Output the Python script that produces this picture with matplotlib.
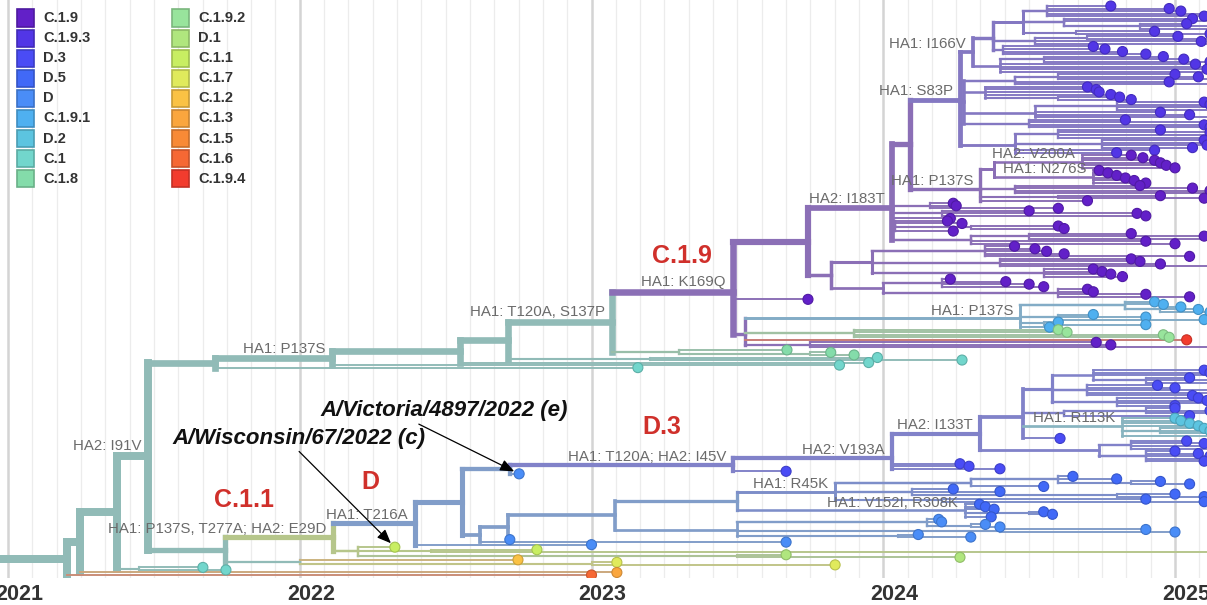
"""Genotype-coloured time tree of recent H1N1pdm HA sequences."""
import matplotlib

matplotlib.use("Agg")
import matplotlib.pyplot as plt
import numpy as np
from matplotlib.collections import LineCollection
from matplotlib.colors import to_rgb
from matplotlib.patches import Rectangle
from matplotlib.transforms import ScaledTranslation

FONT = "Liberation Sans"
W, H, DPI = 1207, 605, 100
PT = 72 / DPI  # points per pixel

GENOTYPES = ["C.1.9", "C.1.9.3", "D.3", "D.5", "D", "C.1.9.1", "D.2", "C.1", "C.1.8",
             "C.1.9.2", "D.1", "C.1.1", "C.1.7", "C.1.2", "C.1.3", "C.1.5", "C.1.6", "C.1.9.4"]
GENOTYPE_COLORS = ["#6220c8", "#5236e6", "#4a4cf5", "#4169f7", "#4a8df7", "#4fb0f0",
                   "#5cc4e0", "#72d6cc", "#84dcaa", "#98e49c", "#b0e67e", "#c8ee62",
                   "#e0ea5c", "#fac244", "#faa63e", "#f88a36", "#f66834", "#f23c2e"]
YEARS = [2021, 2022, 2023, 2024, 2025]

# Tree pieces: a list is [node date, child, child, ...], a float is a tip date,
# a tuple is a tip with its own genotype (and strain name), a string names a clade.
ROOT = [2021.202, "A", (2023.000, "C.1.6")]
A_NODE = [2021.247, "B", (2023.087, "C.1.3")]
B_NODE = [2021.374, "C", [2021.450, 2021.668, 2021.747]]
C_NODE = [2021.480, "P1", "N225"]

P1 = [2021.710, "P137S", 2023.159]
P137S = [2022.111, "P3", 2023.850]
P3 = [2022.549, "P4", 2023.950]
P4 = [2022.714, "T120A", [2023.200, 2023.980, 2024.270]]
T120A = [2023.070, "K169Q", "C18"]
C18 = [2023.300, 2023.670, [2023.750, 2023.820, 2023.900]]
K169Q = [2023.485, "N808", 2023.742, "K_LOW"]
N808 = [2023.742, "I183T", "N830"]

I183T = [2024.030, "N910",
         [2024.160, 2024.240, 2024.250, 2024.600],
         [2024.200, 2024.500, 2024.870, 2024.900],
         2024.230,
         [2024.040, 2024.220, 2024.270, [2024.300, 2024.600, 2024.620], 2024.240],
         [2024.300, [2024.500, 2024.850, 2025.100, 2025.130], 2024.900, 2025.000]]
N910 = [2024.092, "S83P", "P137S_B"]

I166V = [2024.308,
         [2024.376,
          [2024.479,
           [2024.560, 2024.780, 2024.980, 2025.020, 2025.140, 2025.100],
           [2024.620, 2025.060, 2025.130, [2024.880, 2025.040, 2025.140, 2025.150]],
           [2024.660, 2024.930, 2025.120]],
          [2024.520, [2024.700, 2025.010, 2025.140], 2025.090, 2025.150],
          [2024.410, 2024.720, 2024.760, 2024.820, 2024.900]],
         [2024.400, [2024.550, 2024.960, 2025.030, 2025.120], 2025.070, 2025.150, 2025.110,
          2025.130]]
S83P_MID = [2024.278,
            [2024.450, [2024.600, 2025.000, 2025.080, 2025.130], 2024.980, 2025.150],
            [2024.350, 2024.700, 2024.730, 2024.740, 2024.780, [2024.600, 2024.810, 2024.850]],
            [2024.520, [2024.800, 2025.100, 2025.120, 2025.150, 2025.140], 2024.950, 2025.050,
             2025.130],
            [2024.500, 2024.830, 2025.140, 2025.100, 2025.120]]
S83P_LOW = [2024.450, [2024.600, 2024.950, 2025.120, 2025.150, 2025.130],
            [2024.750, 2025.100, 2025.140, 2025.110, 2025.060], 2024.930, 2024.800]
S83P = [2024.263, "I166V", S83P_MID, S83P_LOW]

V200A = [2024.680, 2024.850, 2024.890, 2024.930, 2024.950, 2024.970, 2025.000]
N276S = [2024.720, 2024.740, 2024.770, 2024.800, 2024.830, 2024.860, 2024.900]
P137S_B = [2024.332, [2024.380, "V200A", "N276S"],
           [2024.450, 2024.880, 2025.060, 2025.120, 2025.150],
           [2024.600, 2024.950, 2025.100], 2024.700]

N830 = [2023.820,
        [2023.960, [2024.350, 2024.450, 2024.520, 2024.560, 2024.620, 2025.050],
         [2024.400, 2024.850, 2024.880, 2024.950, 2025.150],
         [2024.550, 2024.720, 2024.750, 2024.780, 2024.820]],
        [2024.000, [2024.200, 2024.230, 2024.420, 2024.500, 2024.550],
         [2024.600, 2024.700, 2024.720, 2024.900, 2025.050]]]

K_LOW = [2023.526, "P137S_C", "C192", (2025.040, "C.1.9.4"),
         [2023.750, 2024.730, 2024.780, 2025.150]]
P137S_C = [2024.469, [2024.830, 2024.930, 2024.960, [2024.950, 2025.020, 2025.080, 2025.120]],
           [2024.600, 2024.720, 2024.900, 2025.100],
           [2024.550, 2024.600, 2024.900], 2024.570]
C192 = [2023.900, 2024.600, 2024.630, 2024.960, 2024.980]

N225 = [2021.744, "T277A", [2022.000, (2022.748, "C.1.2"), "C17"]]
C17 = [2023.000, 2023.087, 2023.835]
T277A = [2022.114, "T216A",
         [2022.200, (2022.326, "C.1.1", "A/Wisconsin/67/2022"),
          [2022.450, 2022.813, 2025.150], "D1"]]
D1 = [2023.500, 2023.667, 2024.263]

T216A = [2022.395, "N462", 2023.000]
N462 = [2022.556, "D3_STEM", "N480"]
D3_STEM = [2022.720, "I45V", (2022.752, "D", "A/Victoria/4897/2022")]
I45V = [2023.485, "V193A", 2023.667]
V193A = [2024.030, "I133T", 2024.263, 2024.294, 2024.400]
I133T = [2024.332,
         [2024.480,
          [2024.580,
           [2024.720, 2025.100, 2025.120, 2025.150, [2024.900, 2025.050, 2025.130, 2025.150]],
           [2024.700, 2024.940, 2025.000, 2025.150, 2025.130, 2025.060],
           [2024.800, 2025.080, 2025.110, 2025.140, 2025.000]],
          [2024.620, [2024.900, 2025.000, 2025.120, 2025.150], 2025.050],
          "R113K", 2024.606],
         [2024.740, [2024.850, 2025.040, 2025.100, 2025.140, 2025.150],
          [2024.900, 2025.000, 2025.080, 2025.120, 2025.150, 2025.100]]]
R113K = [2024.820, 2025.000, 2025.020, 2025.050, 2025.080,
         [2024.950, 2025.100, 2025.120, 2025.150], 2025.140]

N480 = [2022.618, [2022.714, [2023.081, [2023.499, "R45K", "V152I"], "D_LOW"], 2022.720], 2023.667]
R45K = [2023.835,
        [2024.300, [2024.600, 2024.650, 2024.800, [2024.850, 2024.950, 2025.050]], 2024.550],
        [2024.100, 2024.240, 2024.400, [2024.800, 2025.000, 2025.100]],
        [2024.200, 2024.900, 2025.100]]
V152I = [2024.280, 2024.330, 2024.350, 2024.380, [2024.500, 2024.550, 2024.580], 2024.370]
D_LOW = [2023.500, [2024.150, 2024.190, 2024.200, [2024.300, 2024.350, 2024.400]],
         [2024.400, 2024.900, 2025.000], [2024.050, 2024.120, 2024.300]]

CLADES = {
    "root": ROOT, "A": A_NODE, "B": B_NODE, "C": C_NODE, "P1": P1, "P137S": P137S,
    "P3": P3, "P4": P4, "T120A": T120A, "C18": C18, "K169Q": K169Q, "N808": N808,
    "I183T": I183T, "N910": N910, "S83P": S83P, "I166V": I166V, "P137S_B": P137S_B,
    "V200A": V200A, "N276S": N276S, "N830": N830, "K_LOW": K_LOW, "P137S_C": P137S_C,
    "C192": C192, "N225": N225, "C17": C17, "T277A": T277A, "D1": D1, "T216A": T216A,
    "N462": N462, "D3_STEM": D3_STEM, "I45V": I45V, "V193A": V193A, "I133T": I133T,
    "R113K": R113K, "N480": N480, "R45K": R45K, "V152I": V152I, "D_LOW": D_LOW,
}
CLADE_GENOTYPE = {
    "root": "C.1", "K169Q": "C.1.9", "S83P": "C.1.9.3", "C18": "C.1.8", "P137S_C": "C.1.9.1",
    "C192": "C.1.9.2", "T277A": "C.1.1", "D1": "D.1", "C17": "C.1.7", "T216A": "D",
    "I45V": "D.3", "R113K": "D.2", "R45K": "D.5", "V152I": "D.5",
}
BRANCH_LABELS = {
    "C": "HA2: I91V", "P137S": "HA1: P137S", "T120A": "HA1: T120A, S137P",
    "K169Q": "HA1: K169Q", "I183T": "HA2: I183T", "S83P": "HA1: S83P",
    "I166V": "HA1: I166V", "P137S_B": "HA1: P137S", "V200A": "HA2: V200A",
    "N276S": "HA1: N276S", "P137S_C": "HA1: P137S",
    "T277A": "HA1: P137S, T277A; HA2: E29D", "T216A": "HA1: T216A",
    "I45V": "HA1: T120A; HA2: I45V", "V193A": "HA2: V193A", "I133T": "HA2: I133T",
    "R113K": "HA1: R113K", "R45K": "HA1: R45K", "V152I": "HA1: V152I, R308K",
}
CLADE_TITLES = {"K169Q": "C.1.9", "T277A": "C.1.1", "T216A": "D", "I45V": "D.3"}
STRAIN_TAGS = {"A/Wisconsin/67/2022": "c", "A/Victoria/4897/2022": "e"}

# placement of the red clade titles and strain call-outs, in pixels from their node
TITLE_OFFSETS = {"K169Q": (-51, 29), "T277A": (-89, 30), "T216A": (-45, 34), "I45V": (-71, 31)}
STRAIN_OFFSETS = {"A/Wisconsin/67/2022": (-96, 109, 0.49),
                  "A/Victoria/4897/2022": (-75, 63, 0.375)}

COLOR_OF = dict(zip(GENOTYPES, GENOTYPE_COLORS))


def build(item, genotype, name=None):
    if isinstance(item, str):
        return build(CLADES[item], CLADE_GENOTYPE.get(item, genotype), item)
    if isinstance(item, list):
        kids = [build(k, genotype) for k in item[1:]]
        return {"date": item[0], "gt": genotype, "kids": kids, "name": name}
    if isinstance(item, tuple):
        return {"date": item[0], "gt": item[1], "kids": [], "name": None,
                "strain": item[2] if len(item) > 2 else None}
    return {"date": item, "gt": genotype, "kids": [], "name": name}


def layout(node, tips, nodes):
    nodes.append(node)
    if node["kids"]:
        for k in node["kids"]:
            layout(k, tips, nodes)
        node["y"] = float(np.mean([k["y"] for k in node["kids"]]))
        node["n"] = sum(k["n"] for k in node["kids"])
    else:
        node["y"] = float(len(tips))
        node["n"] = 1
        tips.append(node)


def branch_color(gt):
    c = np.array(to_rgb(COLOR_OF[gt]))
    return tuple(0.42 * c + 0.58 * 0.66)


tree = build("root", "C.1")
tips, nodes = [], []
layout(tree, tips, nodes)
n_total = tree["n"]


def width_px(n):
    return 1.5 + 6.5 * np.sqrt(n / n_total)


segs, widths, colors = [], [], []


def collect(node, parent_date):
    w = width_px(node["n"]) * PT
    c = branch_color(node["gt"])
    segs.append([(parent_date, node["y"]), (node["date"], node["y"])])
    widths.append(w)
    colors.append(c)
    if node["kids"]:
        ys = [k["y"] for k in node["kids"]]
        segs.append([(node["date"], min(ys)), (node["date"], max(ys))])
        widths.append(w)
        colors.append(c)
        for k in node["kids"]:
            collect(k, node["date"])


collect(tree, 2020.90)
order = np.argsort(widths)[::-1]

fig = plt.figure(figsize=(W / DPI, H / DPI), dpi=DPI)
ax = fig.add_axes([0, 27 / H, 1, 578 / H])

ax.add_collection(LineCollection([segs[i] for i in order], linewidths=[widths[i] for i in order],
                                 colors=[colors[i] for i in order], capstyle="projecting",
                                 zorder=2))

tip_x = [t["date"] for t in tips]
tip_y = [t["y"] for t in tips]
tip_c = [COLOR_OF[t["gt"]] for t in tips]
tip_e = [tuple(0.82 * np.array(to_rgb(c))) for c in tip_c]
ax.scatter(tip_x, tip_y, s=52, c=tip_c, edgecolors=tip_e, linewidths=0.8, zorder=4)

ax.set_xticks(YEARS)
ax.set_xticklabels([str(y) for y in YEARS], family=FONT, fontsize=15.5,
                   fontweight="bold", color="#333333")
ax.set_xticks([y + m / 12 for y in range(2020, 2026) for m in range(1, 12)], minor=True)
ax.grid(True, which="major", axis="x", color="#d4d4d4", lw=1.8, zorder=0)
ax.grid(True, which="minor", axis="x", color="#ececec", lw=0.9, zorder=0)
ax.set_axisbelow(True)
ax.tick_params(axis="x", which="both", length=0, pad=4)
ax.set_yticks([])
for spine in ax.spines.values():
    spine.set_visible(False)
shift = ScaledTranslation(11 / DPI, 0, fig.dpi_scale_trans)
for lbl in ax.get_xticklabels():
    lbl.set_transform(lbl.get_transform() + shift)

# rank 0 sits 6 px below the top, the last tip 575 px down
px_per_tip = 569 / (n_total - 1)
ax.set_ylim(572 / px_per_tip, -6 / px_per_tip)
ax.set_xlim(2021 - 8 / 291.75, 2021 + 1199 / 291.75)

label_font = dict(family=FONT, fontsize=10.8, color="#6b6b6b")
for node in nodes:
    name = node.get("name")
    if name in BRANCH_LABELS:
        lift = width_px(node["n"]) / 2 + 2
        ax.annotate(BRANCH_LABELS[name], xy=(node["date"], node["y"]),
                    xytext=(-7 * PT, lift * PT), textcoords="offset points",
                    ha="right", va="baseline", zorder=5, **label_font)
    if name in CLADE_TITLES:
        dx, dy = TITLE_OFFSETS[name]
        ax.annotate(CLADE_TITLES[name], xy=(node["date"], node["y"]),
                    xytext=(dx * PT, dy * PT), textcoords="offset points",
                    ha="center", va="baseline", family=FONT, fontsize=18,
                    fontweight="bold", color="#d0302b", zorder=5)

for tip in tips:
    strain = tip.get("strain")
    if strain:
        dx, dy, rel = STRAIN_OFFSETS[strain]
        ax.annotate(f"{strain} ({STRAIN_TAGS[strain]})", xy=(tip["date"], tip["y"]),
                    xytext=(dx * PT, dy * PT), textcoords="offset points",
                    ha="center", va="center", family=FONT, fontsize=16,
                    fontweight="bold", fontstyle="italic", color="#111111", zorder=6,
                    arrowprops=dict(arrowstyle="-|>,head_length=0.6,head_width=0.25",
                                    color="black", lw=0.9, relpos=(rel, 0.0),
                                    shrinkA=0, shrinkB=4, mutation_scale=14))

# genotype legend, two columns of nine
for i, (gt, col) in enumerate(zip(GENOTYPES, GENOTYPE_COLORS)):
    column, row = divmod(i, 9)
    x0 = 17 + column * 155
    yc = 18 + row * 20.1
    edge = tuple(0.8 * np.array(to_rgb(col)))
    fig.patches.append(Rectangle((x0 / W, 1 - (yc + 8.5) / H), 17 / W, 17 / H,
                                 transform=fig.transFigure, facecolor=col,
                                 edgecolor=edge, lw=1.2, zorder=10))
    fig.text((x0 + 26) / W, 1 - yc / H, gt, family=FONT, fontsize=10.5,
             fontweight="bold", color="#333333", va="center", ha="left", zorder=10)

fig.savefig("out.png", dpi=DPI)
